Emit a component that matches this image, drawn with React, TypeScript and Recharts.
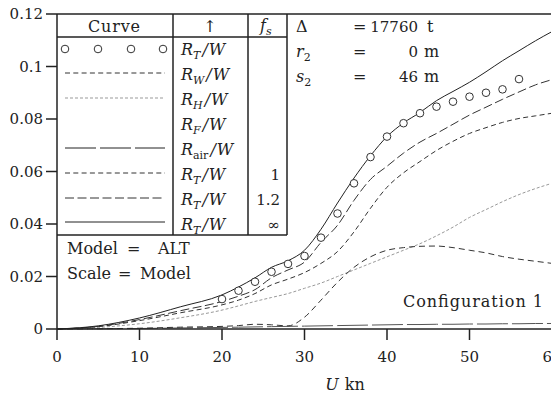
import React from "react";
import { ComposedChart, Line, Scatter, XAxis, YAxis } from "recharts";

// speeds (kn) at which the computed curves were read
const speeds = [0, 5, 10, 15, 20, 22, 24, 26, 28, 30, 32, 34, 36, 38, 40, 42, 44, 46, 48, 50, 52, 54, 56, 58, 60];
// R_T/W, f_s = infinity (solid)
const rtInf = [0, 0.0012, 0.0042, 0.0085, 0.013, 0.016, 0.0195, 0.0235, 0.026, 0.03, 0.038, 0.048, 0.0575, 0.066, 0.0733, 0.0785, 0.0825, 0.087, 0.0905, 0.094, 0.098, 0.1022, 0.106, 0.1098, 0.1133];
// R_T/W, f_s = 1.2
const rt12 = [0, 0.001, 0.0036, 0.007, 0.0105, 0.0125, 0.015, 0.0195, 0.0225, 0.0255, 0.033, 0.0395, 0.049, 0.057, 0.062, 0.067, 0.0712, 0.0745, 0.078, 0.0815, 0.0845, 0.0875, 0.0903, 0.093, 0.095];
// R_T/W, f_s = 1
const rt1 = [0, 0.0009, 0.0032, 0.0062, 0.0092, 0.011, 0.0135, 0.0168, 0.019, 0.0215, 0.025, 0.0295, 0.037, 0.046, 0.054, 0.0595, 0.0638, 0.068, 0.0715, 0.0745, 0.0767, 0.0787, 0.0802, 0.0812, 0.0822];
// R_H/W
const rh = [0, 0.0006, 0.002, 0.0043, 0.0072, 0.0088, 0.0105, 0.012, 0.0135, 0.0155, 0.0175, 0.02, 0.0225, 0.025, 0.0275, 0.03, 0.0325, 0.0355, 0.0388, 0.0425, 0.0455, 0.0485, 0.0512, 0.0535, 0.0555];
// R_W/W
const rw = [0, 0.0001, 0.0003, 0.0007, 0.001, 0.0013, 0.0018, 0.0016, 0.0012, 0.0045, 0.011, 0.0178, 0.0235, 0.0275, 0.03, 0.031, 0.0315, 0.0316, 0.031, 0.03, 0.029, 0.0276, 0.0266, 0.0258, 0.025];
// R_air/W
const rair = [0, 0.0001, 0.0002, 0.0004, 0.0006, 0.0007, 0.0008, 0.0009, 0.001, 0.0011, 0.0012, 0.0013, 0.0014, 0.0015, 0.0016, 0.0017, 0.0017, 0.0018, 0.0018, 0.0019, 0.0019, 0.002, 0.002, 0.0021, 0.0021];

// model test points (circles)
const expSpeeds = [20, 22, 24, 26, 28, 30, 32, 34, 36, 38, 40, 42, 44, 46, 48, 50, 52, 54, 56];
const expRt = [0.0114, 0.0146, 0.018, 0.0218, 0.0248, 0.0278, 0.0348, 0.044, 0.0555, 0.0655, 0.0733, 0.0784, 0.0822, 0.0847, 0.0866, 0.0885, 0.09, 0.0913, 0.0952];

const xTicks = [0, 10, 20, 30, 40, 50, 60];
const yTicks = [0, 0.02, 0.04, 0.06, 0.08, 0.1, 0.12];

const lineData = speeds.map((u, i) => ({
  u,
  rtInf: rtInf[i],
  rt12: rt12[i],
  rt1: rt1[i],
  rh: rh[i],
  rw: rw[i],
  rair: rair[i],
}));
const expData = expSpeeds.map((u, i) => ({ u, rt: expRt[i] }));

const FONT = "'DejaVu Serif', serif";
const INK = "#222";

const fmtY = (v: number) => (v === 0 ? "0" : String(+v.toFixed(2)));

const Circle = (props: any) => (
  <circle cx={props.cx} cy={props.cy} r={3.8} fill="#fff" stroke="#333" strokeWidth={1} />
);

const XLabel = (props: any) => {
  const { viewBox } = props;
  return (
    <text x={viewBox.x + viewBox.width * 0.582} y={viewBox.y + 61} fontFamily={FONT} fontSize={16} textAnchor="middle" fill={INK}>
      <tspan fontStyle="italic">U</tspan>
      <tspan dx={6}>kn</tspan>
    </text>
  );
};

// R_sub/W in math style
const Ratio = ({ x, y, sub, upright }: { x: number; y: number; sub: string; upright?: boolean }) => (
  <text x={x} y={y} fontFamily={FONT} fontSize={16} fill={INK}>
    <tspan fontStyle="italic">R</tspan>
    <tspan fontSize={11} dy={4} fontStyle={upright ? "normal" : "italic"}>{sub}</tspan>
    <tspan dy={-4} dx={2} fontStyle="italic">/</tspan>
    <tspan dx={1} fontStyle="italic">W</tspan>
  </text>
);

const rowsY = [49, 73, 98, 123, 148, 173, 198, 222];
const rowLabels = ["T", "W", "H", "F", "air", "T", "T", "T"];
const rowFs = ["", "", "", "", "", "1", "1.2", "\u221e"];

const Table = () => {
  const sx1 = 65;
  const sx2 = 165;
  return (
    <svg width={551} height={397} style={{ position: "absolute", left: 0, top: 0, pointerEvents: "none" }}>
      <g stroke={INK} strokeWidth={1.5}>
        <line x1={57} y1={14} x2={560} y2={14} />
        <line x1={173} y1={14} x2={173} y2={235} />
        <line x1={248} y1={14} x2={248} y2={235} />
        <line x1={287} y1={14} x2={287} y2={235} />
        <line x1={57} y1={37} x2={287} y2={37} />
        <line x1={57} y1={235} x2={287} y2={235} />
      </g>
      <g fontFamily={FONT} fontSize={16} fill={INK}>
        <text x={114} y={32} textAnchor="middle" textLength={52} lengthAdjust="spacing">Curve</text>
        <text x={210} y={32} textAnchor="middle">{"\u2191"}</text>
        <text x={260} y={31}>
          <tspan fontStyle="italic">f</tspan>
          <tspan fontSize={11} dy={4} fontStyle="italic">s</tspan>
        </text>
      </g>
      {/* curve samples */}
      {[65, 98, 131, 163].map((cx) => (
        <circle key={cx} cx={cx} cy={rowsY[0]} r={3.8} fill="#fff" stroke="#333" strokeWidth={1} />
      ))}
      <line x1={sx1} y1={rowsY[1]} x2={sx2} y2={rowsY[1]} stroke="#333" strokeDasharray="5 3.3" />
      <line x1={sx1} y1={rowsY[2]} x2={sx2} y2={rowsY[2]} stroke="#999" strokeDasharray="3 2" />
      <line x1={sx1} y1={rowsY[4]} x2={sx2} y2={rowsY[4]} stroke={INK} strokeDasharray="31 4" />
      <line x1={sx1} y1={rowsY[5]} x2={sx2} y2={rowsY[5]} stroke="#333" strokeDasharray="5 3.3" />
      <line x1={sx1} y1={rowsY[6]} x2={sx2} y2={rowsY[6]} stroke="#333" strokeDasharray="9 3.5" />
      <line x1={sx1} y1={rowsY[7]} x2={sx2} y2={rowsY[7]} stroke={INK} />
      {rowLabels.map((s, i) => (
        <Ratio key={i} x={181} y={55 + i * 25} sub={s} upright={s === "air"} />
      ))}
      {rowFs.map((s, i) =>
        s ? (
          <text key={i} x={280} y={55 + i * 25} textAnchor="end" fontFamily={FONT} fontSize={15} fill={INK}>
            {s}
          </text>
        ) : null
      )}
      <g fontFamily={FONT} fontSize={16} fill={INK}>
        <text x={67} y={254}>Model</text>
        <text x={127} y={254}>=</text>
        <text x={158} y={254}>ALT</text>
        <text x={67} y={279}>Scale</text>
        <text x={118} y={279}>=</text>
        <text x={140} y={279}>Model</text>

        <text x={296} y={32}>{"\u0394"}</text>
        <text x={353} y={32}>=</text>
        <text x={418} y={32} textAnchor="end" fontSize={15}>17760</text>
        <text x={427} y={32}>t</text>

        <text x={296} y={57}>
          <tspan fontStyle="italic">r</tspan>
          <tspan fontSize={11} dy={4}>2</tspan>
        </text>
        <text x={353} y={57}>=</text>
        <text x={418} y={57} textAnchor="end" fontSize={15}>0</text>
        <text x={424} y={57}>m</text>

        <text x={296} y={82}>
          <tspan fontStyle="italic">s</tspan>
          <tspan fontSize={11} dy={4}>2</tspan>
        </text>
        <text x={353} y={82}>=</text>
        <text x={418} y={82} textAnchor="end" fontSize={15}>46</text>
        <text x={424} y={82}>m</text>

        <text x={403} y={307} textLength={140} lengthAdjust="spacing">Configuration 1</text>
      </g>
    </svg>
  );
};

export default function App() {
  return (
    <div style={{ position: "absolute", left: 0, top: 0, width: 551, height: 397, overflow: "hidden", background: "#fff" }}>
      <ComposedChart width={560} height={397} data={lineData} margin={{ top: 14, right: 8, left: 0, bottom: 0 }}>
        <XAxis
          dataKey="u"
          type="number"
          domain={[0, 60]}
          ticks={xTicks}
          interval={0}
          tickSize={11}
          tickMargin={11}
          height={68}
          axisLine={{ stroke: INK, strokeWidth: 1.5 }}
          tickLine={{ stroke: INK, strokeWidth: 1.5 }}
          tick={{ fill: INK, fontFamily: FONT, fontSize: 15 }}
          label={<XLabel />}
        />
        <YAxis
          type="number"
          domain={[0, 0.12]}
          ticks={yTicks}
          interval={0}
          width={57}
          tickSize={11}
          tickMargin={3}
          tickFormatter={fmtY}
          axisLine={{ stroke: INK, strokeWidth: 1.5 }}
          tickLine={{ stroke: INK, strokeWidth: 1.5 }}
          tick={{ fill: INK, fontFamily: FONT, fontSize: 15 }}
        />
        <Line dataKey="rair" type="monotone" stroke="#555" strokeWidth={1} strokeDasharray="31 4" dot={false} isAnimationActive={false} />
        <Line dataKey="rh" type="monotone" stroke="#999" strokeWidth={1} strokeDasharray="3 2" dot={false} isAnimationActive={false} />
        <Line dataKey="rw" type="monotone" stroke="#333" strokeWidth={1} strokeDasharray="6 4" dot={false} isAnimationActive={false} />
        <Line dataKey="rt1" type="monotone" stroke="#333" strokeWidth={1} strokeDasharray="5 3.3" dot={false} isAnimationActive={false} />
        <Line dataKey="rt12" type="monotone" stroke="#333" strokeWidth={1} strokeDasharray="9 3.5" dot={false} isAnimationActive={false} />
        <Line dataKey="rtInf" type="monotone" stroke={INK} strokeWidth={1} dot={false} isAnimationActive={false} />
        <Scatter data={expData} dataKey="rt" shape={<Circle />} isAnimationActive={false} />
      </ComposedChart>
      <Table />
    </div>
  );
}
